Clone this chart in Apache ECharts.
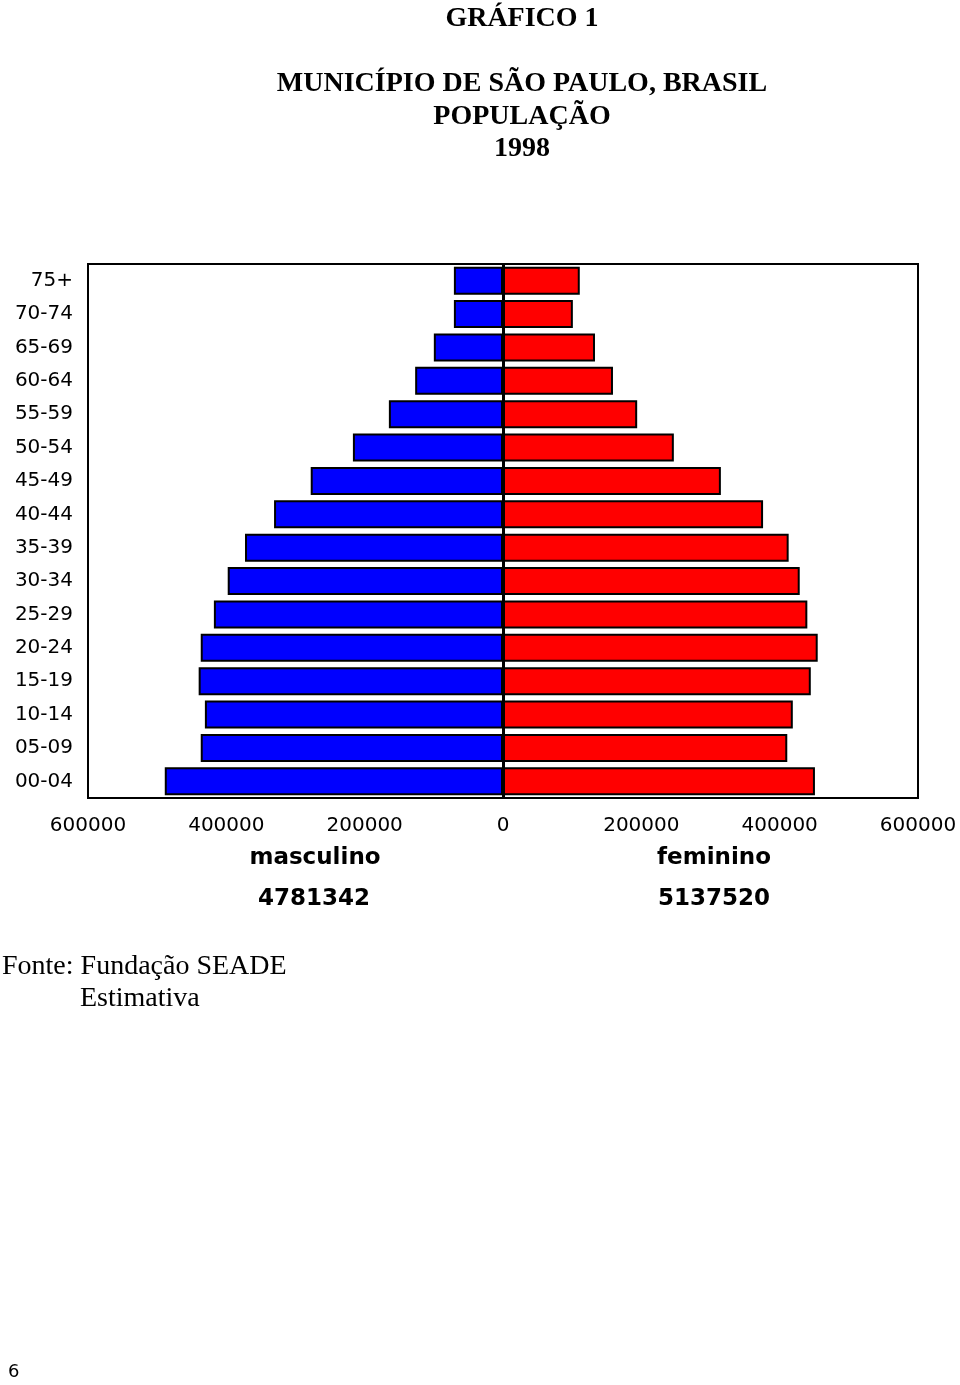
<!DOCTYPE html>
<html>
<head>
<meta charset="utf-8">
<script src="https://cdn.jsdelivr.net/npm/echarts@6/dist/echarts.min.js"></script>
<style>
  html, body { margin: 0; padding: 0; background: #fff; }
  #main { width: 960px; height: 1385px; }
</style>
</head>
<body>
<div id="main"></div>
<script>
// faixas etarias, de baixo para cima
var faixas = ['00-04','05-09','10-14','15-19','20-24','25-29','30-34','35-39',
              '40-44','45-49','50-54','55-59','60-64','65-69','70-74','75+'];
var masculino = [489000,437000,431000,440000,437000,418000,398000,373000,
                 331000,278000,217000,165000,127000,100000,71000,71000];
var feminino  = [451000,411000,419000,445000,455000,440000,429000,413000,
                 376000,315000,247000,194000,159000,133000,101000,111000];
var totalMasc = '4781342';
var totalFem  = '5137520';
var titulos = ['GRÁFICO 1', 'MUNICÍPIO DE SÃO PAULO, BRASIL', 'POPULAÇÃO', '1998'];

var chart = echarts.init(document.getElementById('main'));

var mascNeg = masculino.map(function (v) { return -v; });
var pixelFont = '"DejaVu Sans", sans-serif';
var serif = '"Liberation Serif", "Times New Roman", serif';

function texto(x, y, t, font, align) {
    return { type: 'text', x: x, y: y,
             style: { text: t, font: font, fill: '#000', align: align || 'center', verticalAlign: 'middle' } };
}

var option = {
    animation: false,
    backgroundColor: '#fff',
    grid: {
        left: 88, right: 42, top: 264, bottom: 587,
        show: true, borderColor: '#000', borderWidth: 2, backgroundColor: '#fff'
    },
    xAxis: {
        type: 'value',
        min: -600000, max: 600000, interval: 200000,
        axisLine: { show: false },
        axisTick: { show: false },
        splitLine: { show: false },
        axisLabel: {
            margin: 18,
            color: '#000',
            fontFamily: pixelFont,
            fontSize: 20,
            formatter: function (v) { return String(Math.abs(v)); }
        }
    },
    yAxis: {
        type: 'category',
        data: faixas,
        axisLine: { show: false },
        axisTick: { show: false },
        axisLabel: {
            margin: 15,
            color: '#000',
            fontFamily: pixelFont,
            fontSize: 20
        }
    },
    series: [
        {
            name: 'masculino',
            type: 'bar',
            stack: 'pop',
            barWidth: 28,
            data: mascNeg,
            itemStyle: { color: '#0000ff', borderColor: '#000', borderWidth: 2 },
            markLine: {
                silent: true,
                symbol: 'none',
                label: { show: false },
                lineStyle: { color: '#000', width: 3, type: 'solid' },
                data: [{ xAxis: 0 }]
            }
        },
        {
            name: 'feminino',
            type: 'bar',
            stack: 'pop',
            barWidth: 28,
            data: feminino,
            itemStyle: { color: '#ff0000', borderColor: '#000', borderWidth: 2 }
        }
    ],
    graphic: [
        texto(522, 19, titulos[0], 'bold 28px ' + serif),
        texto(522, 84, titulos[1], 'bold 28px ' + serif),
        texto(522, 117, titulos[2], 'bold 28px ' + serif),
        texto(522, 149, titulos[3], 'bold 28px ' + serif),
        texto(315, 858, 'masculino', 'bold 23px ' + pixelFont),
        texto(714, 858, 'feminino', 'bold 23px ' + pixelFont),
        texto(314, 899, totalMasc, 'bold 23px ' + pixelFont),
        texto(714, 899, totalFem, 'bold 23px ' + pixelFont),
        texto(2, 967, 'Fonte: Fundação SEADE', '28px ' + serif, 'left'),
        texto(80, 999, 'Estimativa', '28px ' + serif, 'left'),
        texto(8, 1372, '6', '18px ' + pixelFont, 'left')
    ]
};

chart.setOption(option, true);
</script>
</body>
</html>
